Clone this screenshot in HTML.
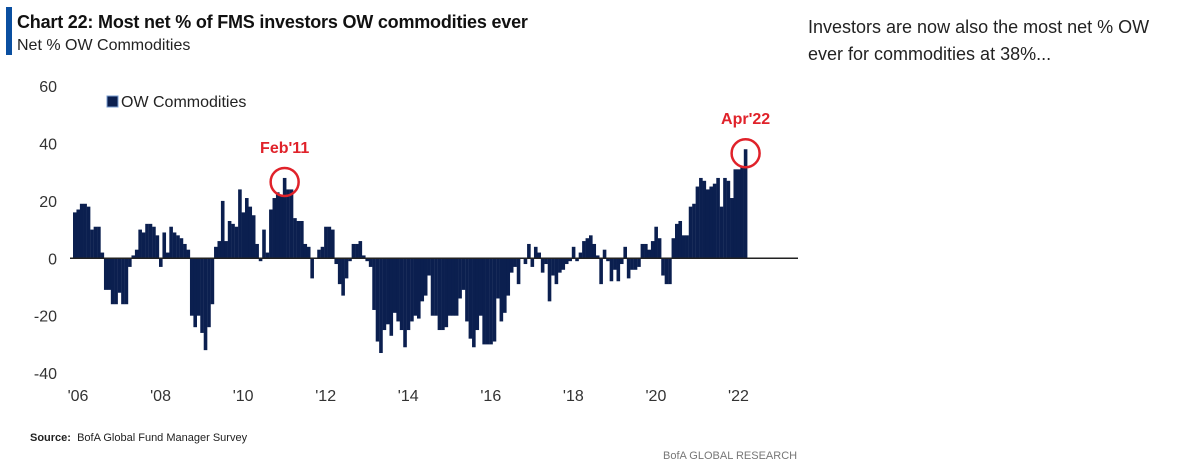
<!DOCTYPE html>
<html><head><meta charset="utf-8"><style>
body{margin:0;width:1193px;height:475px;background:#fff;font-family:"Liberation Sans",sans-serif;overflow:hidden;position:relative}
.t{position:absolute;white-space:nowrap}
</style></head><body>
<div class="t" style="left:6px;top:7px;width:6px;height:48px;background:#0a4fa0"></div>
<div class="t" style="left:17px;top:12px;font-size:18px;font-weight:bold;color:#111;letter-spacing:-0.2px">Chart 22: Most net % of FMS investors OW commodities ever</div>
<div class="t" style="left:17px;top:37px;font-size:16px;color:#222">Net % OW Commodities</div>
<div class="t" style="left:808px;top:14px;font-size:18px;color:#222;line-height:27px">Investors are now also the most net % OW<br>ever for commodities at 38%...</div>
<div class="t" style="left:30px;top:432px;font-size:11px;color:#222"><b>Source:</b>&nbsp; BofA Global Fund Manager Survey</div>
<div class="t" style="left:663px;top:450px;font-size:11px;color:#777">BofA GLOBAL RESEARCH</div>
<svg id="chart" width="1193" height="475" style="position:absolute;left:0;top:0"></svg>
<script>
const years=["'06","'08","'10","'12","'14","'16","'18","'20","'22"];
const yTicks=[60,40,20,0,-20,-40];
const values=[16,17,19,19,18,10,11,11,2,-11,-11,-16,-16,-12,-16,-16,-3,1,3,10,9,12,12,11,8,-3,9,2,11,9,8,7,5,3,-20,-24,-20,-26,-32,-24,-16,4,6,20,6,13,12,11,
24,16,21,18,15,5,-1,10,2,17,21,23,22,28,24,24,14,13,13,5,4,-7,0,3,4,11,11,10,-2,-9,-13,-7,-1,5,5,6,1,-1,-3,-18,-29,-33,-25,-23,-27,-19,-22,-25,-31,-25,-22,-20,-21,
-15,-13,-6,-20,-20,-25,-25,-24,-20,-20,-20,-14,-11,-22,-28,-31,-25,-20,-30,-30,-30,-29,-14,-22,-19,-13,-5,-3,-9,0,-2,5,-3,4,2,-5,-2,-15,-6,-9,-5,-4,-2,-1,4,-1,2,6,7,8,
5,1,-9,3,-1,-8,-4,-8,-2,4,-7,-4,-4,-3,5,5,3,6,11,7,-6,-9,-9,7,12,13,8,8,18,19,25,28,27,24,25,26,28,18,28,27,21,31,31,32,38];
const ns="http://www.w3.org/2000/svg";
const svg=document.getElementById('chart');
const yS=v=>258.3-v*2.87;
const xS=m=>73+m*3.44;
function el(t,a){const e=document.createElementNS(ns,t);for(const k in a)e.setAttribute(k,a[k]);svg.appendChild(e);return e;}
yTicks.forEach(v=>{const e=el('text',{x:57,y:yS(v)+6,'text-anchor':'end','font-size':16,fill:'#333','font-family':'Liberation Sans'});e.textContent=v;

});
years.forEach((y,i)=>{const e=el('text',{x:xS(i*24)+5,y:401,'text-anchor':'middle','font-size':16,fill:'#333','font-family':'Liberation Sans'});e.textContent=y;

});
values.forEach((v,i)=>{const y0=yS(0),y1=yS(v);const r=el('rect',{x:xS(i),y:Math.min(y0,y1),width:3.6,height:Math.max(0.5,Math.abs(y1-y0)),fill:'#0b1f4f'});

});
const ax=el('line',{x1:70,x2:798,y1:yS(0),y2:yS(0),stroke:'#222','stroke-width':1.5});


const lg=el('rect',{x:107,y:96,width:11,height:11,fill:'#0b1f4f',stroke:'#7a9cd0','stroke-width':1});


const lt=el('text',{x:121,y:107,'font-size':16,fill:'#222','font-family':'Liberation Sans'});lt.textContent='OW Commodities';


function ann(m,label,name){const v=values[m];const cx=xS(m)+1.8,cy=yS(v)+4;
const c=el('circle',{cx:cx,cy:cy,r:14,fill:'none',stroke:'#e0222a','stroke-width':2.5});


const t=el('text',{x:cx,y:cy-29,'text-anchor':'middle','font-size':16,'font-weight':'bold',fill:'#e0222a','font-family':'Liberation Sans'});t.textContent=label;

}
ann(61,"Feb'11",'feb11-annotation');
ann(195,"Apr'22",'apr22-annotation');
</script>
</body></html>
